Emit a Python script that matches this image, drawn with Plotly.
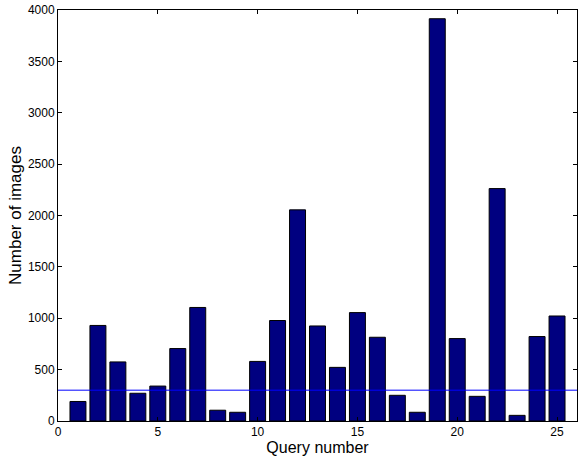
import plotly.graph_objects as go

queries = list(range(1, 26))
num_images = [190, 930, 575, 270, 340, 705, 1105, 105, 85, 580,
              978, 2055, 925, 522, 1055, 815, 250, 85, 3915, 802,
              240, 2262, 55, 822, 1022]
threshold = 300
x_ticks = [0, 5, 10, 15, 20, 25]
y_ticks = [0, 500, 1000, 1500, 2000, 2500, 3000, 3500, 4000]

FONT = "Liberation Sans, Arial, sans-serif"

fig = go.Figure()
fig.add_trace(go.Bar(
    x=queries, y=num_images, width=0.8,
    marker=dict(color="#000080", line=dict(color="black", width=1)),
    showlegend=False,
))
fig.add_hline(y=threshold, line=dict(color="#0000FF", width=1), layer="above")

axis_common = dict(
    showgrid=False, zeroline=False, showline=True, linecolor="black", linewidth=1,
    mirror="ticks", ticks="inside", ticklen=4, tickcolor="black", tickwidth=1,
    tickfont=dict(family=FONT, size=12, color="black"),
    automargin=False,
)
fig.update_xaxes(range=[0, 26], tickvals=x_ticks,
                 title=dict(text="Query number", font=dict(family=FONT, size=16, color="black"), standoff=0),
                 **axis_common)
fig.update_yaxes(range=[0, 4000], tickvals=y_ticks,
                 title=dict(text="Number of images", font=dict(family=FONT, size=17, color="black"), standoff=1),
                 **axis_common)
fig.update_layout(
    width=578, height=459,
    margin=dict(l=58, r=1, t=10, b=38),
    plot_bgcolor="white", paper_bgcolor="white",
    bargap=0.2,
)
fig.write_html("out.html", config={"displayModeBar": False},
               post_script="document.body.style.margin='0';document.body.style.overflow='hidden';")
